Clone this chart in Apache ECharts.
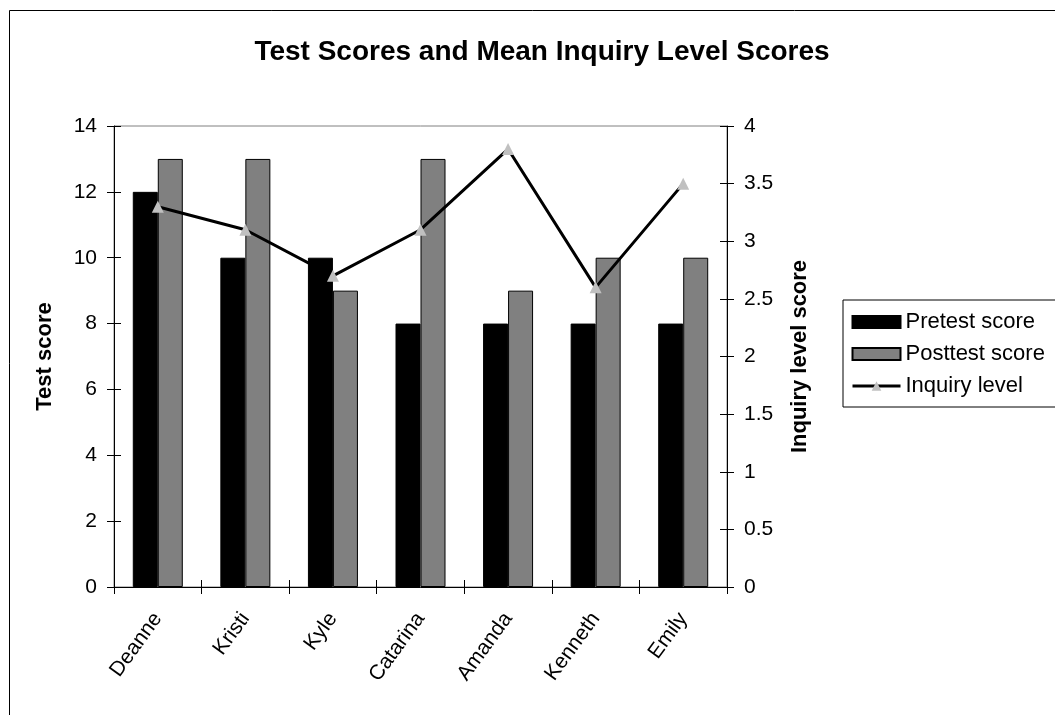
<!DOCTYPE html>
<html>
<head>
<meta charset="utf-8">
<script src="https://cdn.jsdelivr.net/npm/echarts@6/dist/echarts.min.js"></script>
<style>
html,body{margin:0;padding:0;background:#fff;}
#chart{width:1055px;height:715px;}
</style>
</head>
<body>
<div id="chart"></div>
<script>
const students = ['Deanne','Kristi','Kyle','Catarina','Amanda','Kenneth','Emily'];
const pretestScores = [12, 10, 10, 8, 8, 8, 8];
const posttestScores = [13, 13, 9, 13, 9, 10, 10];
const inquiryLevels = [3.3, 3.1, 2.7, 3.1, 3.8, 2.6, 3.5];
const leftTicks = {min: 0, max: 14, interval: 2};
const rightTicks = {min: 0, max: 4, interval: 0.5};

const FONT = '"Liberation Sans", Arial, sans-serif';
const chart = echarts.init(document.getElementById('chart'), null, {renderer: 'canvas'});

const tickStyle = {color: '#000', width: 1};
function innerTickAxis(base, extra) {
  return Object.assign({}, base, {
    axisLine: {show: false},
    axisTick: {show: true, inside: true, length: 7, lineStyle: tickStyle},
    axisLabel: {show: false},
    splitLine: {show: false},
    name: ''
  }, extra || {});
}

chart.setOption({
  backgroundColor: '#fff',
  animation: false,
  textStyle: {fontFamily: FONT},
  title: {
    text: 'Test Scores and Mean Inquiry Level Scores',
    left: 537, top: 33, textAlign: 'center',
    textStyle: {fontFamily: FONT, fontSize: 28, fontWeight: 'bold', color: '#000'}
  },
  graphic: [{
    type: 'rect', left: 7, top: 8, z: -10, silent: true,
    shape: {x: 0, y: 0, width: 1200, height: 900},
    style: {fill: 'none', stroke: '#000', lineWidth: 1}
  }],
  legend: {
    orient: 'vertical',
    left: 843, top: 300,
    padding: [11, 40, 10, 8],
    itemWidth: 48, itemHeight: 12, itemGap: 10,
    borderColor: '#000', borderWidth: 1,
    textStyle: {fontFamily: FONT, fontSize: 22, color: '#000'},
    data: [
      {name: 'Pretest score', icon: 'rect'},
      {name: 'Posttest score', icon: 'rect'},
      {name: 'Inquiry level', lineStyle: {width: 3, color: '#000'}}
    ]
  },
  grid: {
    left: 114, right: 328, top: 126, bottom: 128,
    show: true, borderColor: '#808080', borderWidth: 1, backgroundColor: '#fff'
  },
  xAxis: [{
    type: 'category',
    data: students,
    axisLine: {lineStyle: {color: '#000', width: 1}},
    axisTick: {show: true, length: 7, lineStyle: tickStyle},
    axisLabel: {rotate: 54, fontFamily: FONT, fontSize: 21, color: '#000', margin: 28, interval: 0}
  }, innerTickAxis({type: 'category', data: students, position: 'bottom'})],
  yAxis: [{
    type: 'value',
    min: leftTicks.min, max: leftTicks.max, interval: leftTicks.interval,
    name: 'Test score', nameLocation: 'middle', nameGap: 58,
    nameTextStyle: {fontFamily: FONT, fontSize: 22, fontWeight: 'bold', color: '#000'},
    axisLine: {show: true, lineStyle: {color: '#000'}},
    axisTick: {show: true, length: 7, lineStyle: tickStyle},
    axisLabel: {fontFamily: FONT, fontSize: 21, color: '#000', margin: 17},
    splitLine: {show: false}
  }, {
    type: 'value',
    min: rightTicks.min, max: rightTicks.max, interval: rightTicks.interval,
    position: 'right',
    name: 'Inquiry level score', nameLocation: 'middle', nameGap: 62, nameRotate: 90,
    nameTextStyle: {fontFamily: FONT, fontSize: 22, fontWeight: 'bold', color: '#000'},
    axisLine: {show: true, lineStyle: {color: '#000'}},
    axisTick: {show: true, length: 7, lineStyle: tickStyle},
    axisLabel: {fontFamily: FONT, fontSize: 21, color: '#000', margin: 17},
    splitLine: {show: false}
  },
  innerTickAxis({type: 'value', position: 'left', min: leftTicks.min, max: leftTicks.max, interval: leftTicks.interval}),
  innerTickAxis({type: 'value', position: 'right', min: rightTicks.min, max: rightTicks.max, interval: rightTicks.interval})
  ],
  series: [{
    name: 'Pretest score', type: 'bar', yAxisIndex: 0,
    data: pretestScores, barWidth: 25, barGap: '0%',
    itemStyle: {color: '#000', borderColor: '#000', borderWidth: 1}
  }, {
    name: 'Posttest score', type: 'bar', yAxisIndex: 0,
    data: posttestScores, barWidth: 25, barGap: '0%',
    itemStyle: {color: '#808080', borderColor: '#000', borderWidth: 1}
  }, {
    name: 'Inquiry level', type: 'line', yAxisIndex: 1,
    data: inquiryLevels,
    symbol: 'triangle', symbolSize: 12,
    lineStyle: {color: '#000', width: 3},
    itemStyle: {color: '#c0c0c0', borderWidth: 0},
    z: 5
  }]
});
</script>
</body>
</html>
